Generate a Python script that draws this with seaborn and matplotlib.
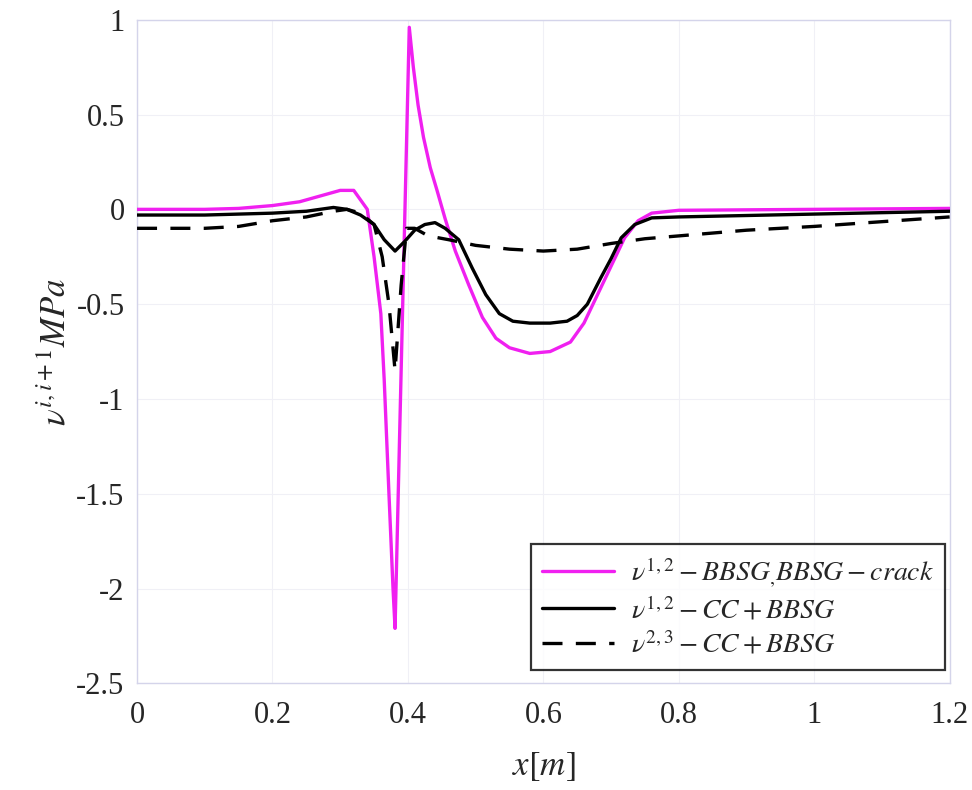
import matplotlib
matplotlib.use("Agg")
import matplotlib.pyplot as plt
from matplotlib.ticker import MultipleLocator, FormatStrFormatter
import seaborn as sns

# nu^{1,2} BBSG / BBSG-crack (magenta)
x_crack = [0.00, 0.10, 0.15, 0.20, 0.24, 0.28, 0.30, 0.32, 0.34, 0.35, 0.36, 0.365,
           0.372, 0.378, 0.381, 0.402, 0.408, 0.415, 0.423, 0.433, 0.443, 0.455,
           0.47, 0.49, 0.51, 0.53, 0.55, 0.58, 0.61, 0.64, 0.66, 0.68, 0.70, 0.72,
           0.74, 0.76, 0.80, 1.00, 1.20]
y_crack = [0.00, 0.00, 0.005, 0.02, 0.04, 0.08, 0.10, 0.10, 0.00, -0.25, -0.55, -0.9,
           -1.5, -2.0, -2.21, 0.96, 0.75, 0.55, 0.38, 0.22, 0.10, -0.05,
           -0.22, -0.40, -0.57, -0.68, -0.73, -0.76, -0.75, -0.70, -0.60, -0.45, -0.30, -0.15,
           -0.06, -0.02, -0.005, 0.00, 0.005]

# nu^{1,2} CC + BBSG (solid black)
x_cc12 = [0.00, 0.10, 0.20, 0.25, 0.29, 0.31, 0.33, 0.35, 0.365, 0.381, 0.395, 0.41,
          0.425, 0.44, 0.455, 0.475, 0.495, 0.515, 0.535, 0.555, 0.58, 0.61, 0.635,
          0.65, 0.665, 0.685, 0.70, 0.715, 0.735, 0.76, 0.80, 1.00, 1.20]
y_cc12 = [-0.03, -0.03, -0.02, -0.01, 0.01, 0.00, -0.03, -0.08, -0.16, -0.22, -0.17, -0.11,
          -0.08, -0.07, -0.10, -0.16, -0.31, -0.45, -0.55, -0.59, -0.60, -0.60, -0.59,
          -0.56, -0.50, -0.36, -0.26, -0.15, -0.08, -0.045, -0.04, -0.025, -0.01]

# nu^{2,3} CC + BBSG (dashed black)
x_cc23 = [0.00, 0.10, 0.15, 0.20, 0.25, 0.29, 0.31, 0.33, 0.35, 0.362, 0.372, 0.381,
          0.39, 0.398, 0.41, 0.43, 0.46, 0.50, 0.55, 0.60, 0.65, 0.70, 0.75, 0.80,
          0.90, 1.00, 1.10, 1.20]
y_cc23 = [-0.10, -0.10, -0.09, -0.06, -0.04, -0.01, 0.00, -0.02, -0.08, -0.25, -0.50, -0.85,
          -0.40, -0.10, -0.10, -0.14, -0.16, -0.19, -0.21, -0.22, -0.21, -0.18, -0.155, -0.14,
          -0.11, -0.09, -0.065, -0.04]

x_ticks = [0, 0.2, 0.4, 0.6, 0.8, 1, 1.2]
y_ticks = [1, 0.5, 0, -0.5, -1, -1.5, -2, -2.5]


def main():
    sns.set_style("white")
    plt.rcParams["font.family"] = ["Liberation Serif", "DejaVu Serif"]
    plt.rcParams["mathtext.fontset"] = "stix"
    plt.rcParams["axes.unicode_minus"] = False

    fig = plt.figure(figsize=(9.72, 7.9), dpi=100)
    ax = fig.add_axes([0.141, 0.135, 0.836, 0.840])

    sns.lineplot(x=x_crack, y=y_crack, ax=ax, color="#f020f0", lw=2.4, sort=False,
                 estimator=None, label=r"$\nu^{1,2} - BBSG_{,}BBSG - crack$", zorder=3)
    sns.lineplot(x=x_cc12, y=y_cc12, ax=ax, color="black", lw=2.4, sort=False,
                 estimator=None, label=r"$\nu^{1,2} - CC+BBSG$", zorder=4)
    sns.lineplot(x=x_cc23, y=y_cc23, ax=ax, color="black", lw=2.4, sort=False,
                 estimator=None, label=r"$\nu^{2,3} - CC+BBSG$", zorder=4)
    ax.lines[-1].set_dashes([6, 4])

    ax.set_xlim(0, 1.2)
    ax.set_ylim(-2.5, 1)
    ax.set_xticks(x_ticks)
    ax.set_yticks(y_ticks)
    ax.xaxis.set_minor_locator(MultipleLocator(0.1))
    ax.yaxis.set_minor_locator(MultipleLocator(0.1))
    ax.xaxis.set_major_formatter(FormatStrFormatter("%g"))
    ax.yaxis.set_major_formatter(FormatStrFormatter("%g"))
    ax.tick_params(which="both", direction="in", color="#c8c8e0", labelsize=22)
    ax.tick_params(axis="x", pad=13)
    ax.tick_params(axis="y", pad=9)
    ax.tick_params(which="major", length=6)
    ax.tick_params(which="minor", length=3)
    ax.grid(True, which="major", color="#f0f0f6", lw=0.8)
    for sp in ax.spines.values():
        sp.set_color("#d4d4ea")
        sp.set_linewidth(1.0)

    ax.set_xlabel(r"$x[m]$", fontsize=25, labelpad=14)
    ax.set_ylabel(r"$\nu^{i,i+1}MPa$", fontsize=25, labelpad=2)

    leg = ax.legend(loc="lower right", fontsize=20, frameon=True, fancybox=False,
                    handlelength=2.6, handletextpad=0.6, borderpad=0.4,
                    labelspacing=0.25, borderaxespad=0, bbox_to_anchor=(0.994, 0.02))
    leg.get_frame().set_edgecolor("black")
    leg.get_frame().set_linewidth(1.6)

    fig.savefig("out.png", dpi=100)


if __name__ == "__main__":
    main()
